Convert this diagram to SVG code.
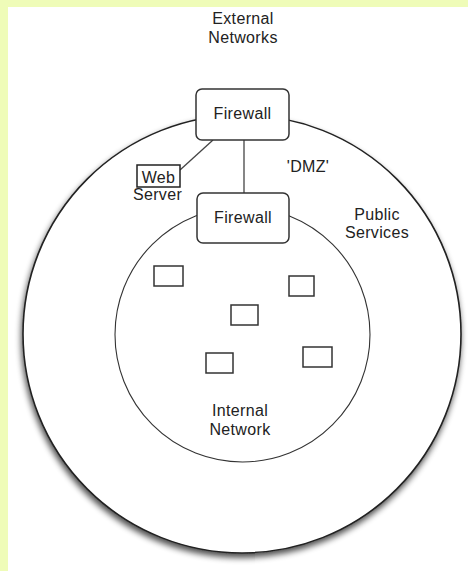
<svg xmlns="http://www.w3.org/2000/svg" width="468" height="571" viewBox="0 0 468 571">
  <defs>
    <filter id="shadow" x="-10%" y="-10%" width="120%" height="125%">
      <feGaussianBlur in="SourceAlpha" stdDeviation="3"/>
      <feOffset dx="-1" dy="4" result="b"/>
      <feComponentTransfer><feFuncA type="linear" slope="0.7"/></feComponentTransfer>
      <feMerge><feMergeNode/><feMergeNode in="SourceGraphic"/></feMerge>
    </filter>
    <style>
      .lbl { font-family: "Liberation Sans", Arial, sans-serif; font-size: 16px; letter-spacing: 0.35px; fill: #222; text-anchor: middle; }
      .fw { fill: #fff; stroke: #333; stroke-width: 1.5; }
      .host { fill: #fff; stroke: #333; stroke-width: 1.5; }
      .link { stroke: #444; stroke-width: 1.3; fill: none; }
    </style>
  </defs>

  <!-- page backdrop -->
  <rect x="0" y="0" width="468" height="571" fill="#effcb8"/>
  <rect x="8" y="7" width="460" height="564" fill="#ffffff"/>

  <!-- zones -->
  <g id="dmz-zone">
    <circle cx="242" cy="334" r="219" fill="#fff" stroke="#222" stroke-width="1.6" filter="url(#shadow)"/>
  </g>
  <g id="internal-zone">
    <circle cx="242.5" cy="334.5" r="127.5" fill="#fff" stroke="#333" stroke-width="1.1"/>
  </g>

  <!-- connectors -->
  <g id="connectors">
    <line class="link" x1="244" y1="140" x2="244" y2="193"/>
    <line class="link" x1="213" y1="140" x2="180" y2="170"/>
  </g>

  <!-- zone labels -->
  <g id="label-external">
    <text class="lbl" x="243" y="24">External</text>
    <text class="lbl" x="243" y="43">Networks</text>
  </g>
  <g id="label-dmz">
    <text class="lbl" x="308" y="172">'DMZ'</text>
  </g>
  <g id="label-public">
    <text class="lbl" x="377" y="220">Public</text>
    <text class="lbl" x="377" y="238">Services</text>
  </g>
  <g id="label-internal">
    <text class="lbl" x="240" y="416">Internal</text>
    <text class="lbl" x="240" y="435">Network</text>
  </g>

  <!-- firewalls -->
  <g id="firewall-outer">
    <rect class="fw" x="196" y="89" width="93" height="51" rx="6"/>
    <text class="lbl" x="242.5" y="119">Firewall</text>
  </g>
  <g id="firewall-inner">
    <rect class="fw" x="197" y="193" width="92" height="50" rx="6"/>
    <text class="lbl" x="243" y="223">Firewall</text>
  </g>

  <!-- web server -->
  <g id="web-server">
    <rect x="137" y="165" width="43" height="22" fill="#fff" stroke="#222" stroke-width="1.5"/>
    <text class="lbl" x="158.5" y="183">Web</text>
    <text class="lbl" x="157.5" y="200">Server</text>
  </g>

  <!-- internal hosts -->
  <g id="host-1"><rect class="host" x="154" y="266" width="29" height="20"/></g>
  <g id="host-2"><rect class="host" x="289" y="276" width="25" height="20"/></g>
  <g id="host-3"><rect class="host" x="231" y="305" width="27" height="20"/></g>
  <g id="host-4"><rect class="host" x="206" y="353" width="27" height="20"/></g>
  <g id="host-5"><rect class="host" x="303" y="347" width="29" height="20"/></g>
</svg>
